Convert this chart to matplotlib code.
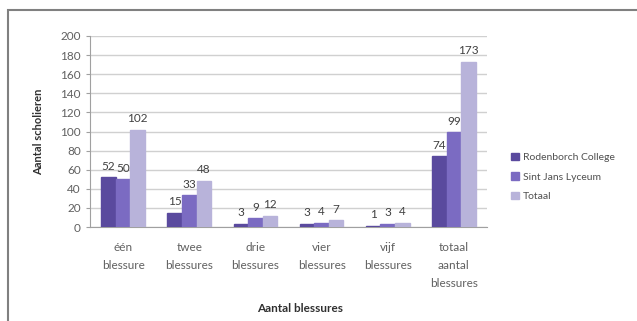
import matplotlib.pyplot as plt
import numpy as np
from matplotlib.patches import Rectangle

plt.rcParams['font.family'] = ['Lato', 'DejaVu Sans']

categories = ['één\nblessure', 'twee\nblessures', 'drie\nblessures',
              'vier\nblessures', 'vijf\nblessures', 'totaal\naantal\nblessures']
rodenborch = [52, 15, 3, 3, 1, 74]
sint_jans = [50, 33, 9, 4, 3, 99]
totaal = [102, 48, 12, 7, 4, 173]

series = [('Rodenborch College', rodenborch, '#5a4a9e'),
          ('Sint Jans Lyceum', sint_jans, '#7b6bc2'),
          ('Totaal', totaal, '#b8b3da')]

fig = plt.figure(figsize=(6.37, 3.21), dpi=100)
ax = fig.add_axes([90/637, 1-227/321, 397/637, 191/321])

# frame around the chart
fig.patches.append(Rectangle((8/637, -0.1), 1.2, 1.1 - 10/321, transform=fig.transFigure,
                             fill=False, edgecolor='#808080', lw=1.5))

x = np.arange(len(categories))
w = 0.22
for i, (name, vals, col) in enumerate(series):
    pos = x + (i - 1) * w
    ax.bar(pos, vals, w, color=col, edgecolor=col, label=name, zorder=3)
    for p, v in zip(pos, vals):
        ax.text(p, v + 6, str(v), ha='center', va='bottom', fontsize=8.5, color='#404040')

ax.set_ylim(0, 200)
ax.set_yticks(range(0, 201, 20))
ax.set_xlim(-0.5, len(categories) - 0.5)
ax.set_xticks(x)
ax.set_xticklabels(categories, fontsize=8.5, color='#606060', linespacing=1.75)
ax.tick_params(axis='y', labelsize=8.5, labelcolor='#606060', color='#a0a0a0', length=3)
ax.tick_params(axis='x', length=0, pad=11)
ax.grid(axis='y', color='#d0d0d0', lw=1, zorder=0)
for s in ['top', 'right']:
    ax.spines[s].set_visible(False)
ax.spines['left'].set_color('#a0a0a0')
ax.spines['bottom'].set_color('#a0a0a0')

ax.set_ylabel('Aantal scholieren', fontsize=8, fontweight='bold', color='#303030')
ax.yaxis.set_label_coords(-0.115, 0.5)
fig.text(300/637, 1-309/321, 'Aantal blessures', fontsize=8.5, fontweight='bold',
         color='#303030', ha='center', va='center')

ax.legend(loc='center left', bbox_to_anchor=(502/637, 1-177/321), bbox_transform=fig.transFigure,
          frameon=False, fontsize=7.5, labelcolor='#505050', handlelength=0.7, handleheight=0.7,
          handletextpad=0.4, labelspacing=1.0)

fig.savefig('out.png', dpi=100)
